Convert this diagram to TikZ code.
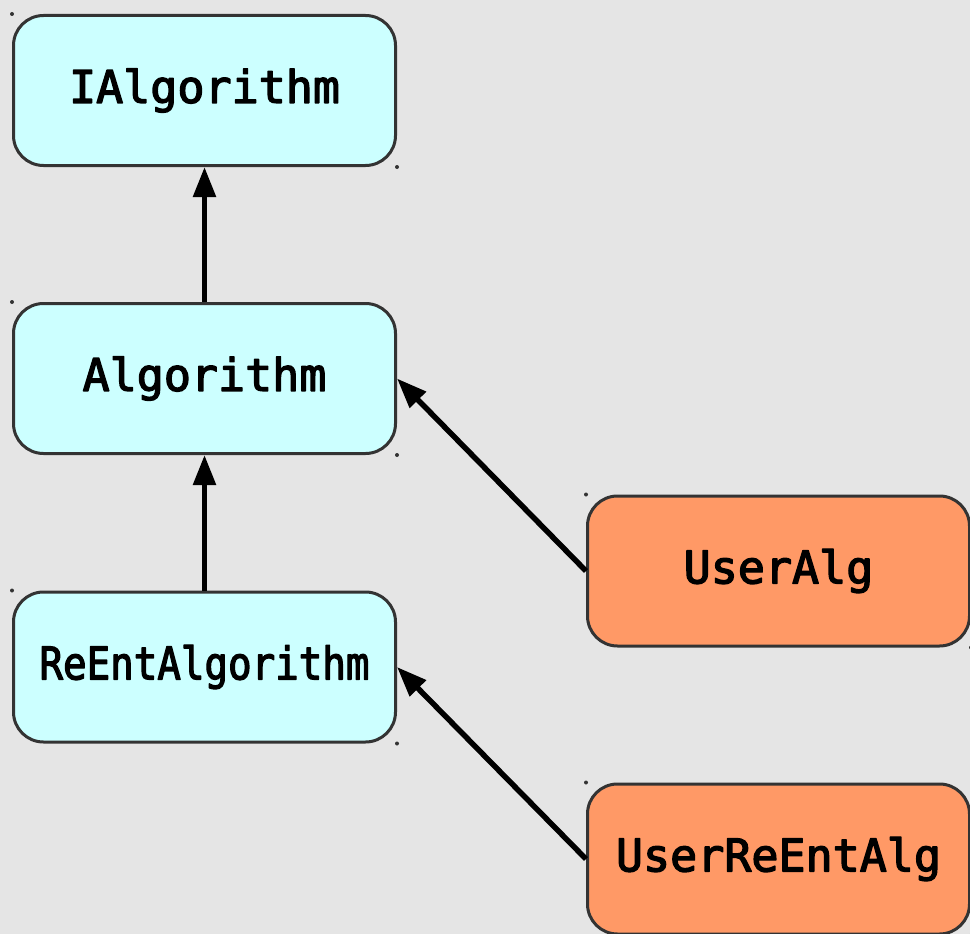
\documentclass[tikz,border=0pt]{standalone}
\usepackage{fontspec}
\setmonofont{DejaVu Sans Mono}[FakeBold=3]
\usetikzlibrary{arrows.meta}

\definecolor{bgcol}{HTML}{E5E5E5}
\definecolor{basecol}{HTML}{CCFFFF}
\definecolor{usercol}{HTML}{FF9966}
\definecolor{edgecol}{HTML}{333333}

\tikzset{
  classbox/.style={draw=edgecol, line width=3pt, rounded corners=30pt,
    minimum width=382pt, minimum height=150pt, inner sep=0pt,
    font=\fontsize{45}{54}\selectfont\ttfamily,
    append after command={
      \pgfextra{\fill[edgecol] (\tikzlastnode.north west) circle (2pt)
                              (\tikzlastnode.south east) circle (2pt);}}},
  basebox/.style={classbox, fill=basecol},
  userbox/.style={classbox, fill=usercol},
  inherit/.style={line width=5.5pt, -{Triangle[length=30pt,width=22pt]}}
}

\begin{document}
\begin{tikzpicture}[x=1pt, y=-1pt, line join=round]
\fill[bgcol] (0,0) rectangle (970,934);
\useasboundingbox (0,0) rectangle (970,934);
\clip (0,0) rectangle (970,934);

% base classes on the left
\node[basebox] (ialg) at (204.5,90.5) {IAlgorithm};
\node[basebox] (alg) at (204.5,378.5) {Algorithm};
\node[basebox] (reent) at (204.5,667) {\scalebox{0.87}[1]{ReEntAlgorithm}};

% user classes on the right
\node[userbox] (useralg) at (778.5,571) {UserAlg};
\node[userbox] (userreent) at (778.5,859) {UserReEntAlg};

% inheritance arrows
\draw[inherit] (alg.north) -- (ialg.south);
\draw[inherit] (reent.north) -- (alg.south);
\draw[inherit] (useralg.west) -- (alg.east);
\draw[inherit] (userreent.west) -- (reent.east);

\end{tikzpicture}
\end{document}
